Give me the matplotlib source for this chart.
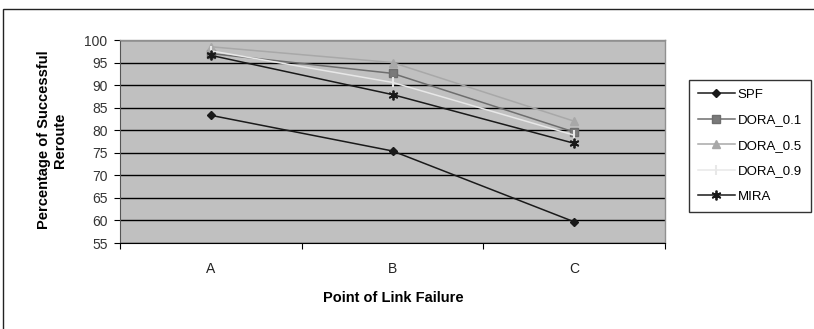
import matplotlib
matplotlib.use("Agg")
import matplotlib.pyplot as plt
from matplotlib.patches import Rectangle
import numpy as np

# ---------------- data ---------------- #
points = ["A", "B", "C"]
spf = [83.3, 75.4, 59.7]
dora_01 = [97.0, 92.6, 79.6]
dora_05 = [98.5, 95.0, 82.0]
dora_09 = [97.6, 90.6, 78.9]
mira = [96.6, 87.9, 77.1]

plt.rcParams.update({"font.family": ["Liberation Sans", "DejaVu Sans"],
                     "font.size": 10})

W, H = 814, 329
fig = plt.figure(figsize=(W / 100, H / 100), dpi=100)
fig.patch.set_facecolor("white")

# outer chart frame (Excel style), right/bottom edges run off the picture
fig.patches.append(Rectangle((3 / W, -0.1), 1.1, 1.1 - 9 / H,
                             transform=fig.transFigure, fill=False,
                             edgecolor="#222222", lw=1.0))

ax = fig.add_axes([120 / W, 1 - 243 / H, 545 / W, 203 / H])
ax.set_facecolor("#c0c0c0")

x = np.arange(len(points))
series = [
    ("SPF", spf, dict(color="#1a1a1a", marker="D", ms=4.5, mfc="#1a1a1a")),
    ("DORA_0.1", dora_01, dict(color="#6e6e6e", marker="s", ms=6, mfc="#7a7a7a")),
    ("DORA_0.5", dora_05, dict(color="#a8a8a8", marker="^", ms=6, mfc="#a8a8a8")),
    ("DORA_0.9", dora_09, dict(color="#e8e8e8", marker="|", ms=7, mew=1.5)),
    ("MIRA", mira, dict(color="#1a1a1a", marker=(6, 2, 0), ms=7, mew=1.3)),
]
for name, vals, st in series:
    ax.plot(x, vals, label=name, lw=1.1, **st)

ax.set_xlim(-0.5, 2.5)
ax.set_ylim(55, 100)
ax.set_yticks(np.arange(55, 101, 5))
ax.yaxis.grid(True, color="black", lw=1.0)
ax.set_axisbelow(True)

# category boundaries carry the tick marks, labels sit between them
ax.set_xticks([-0.5, 0.5, 1.5, 2.5])
ax.set_xticklabels([])
ax.set_xticks(x, minor=True)
ax.set_xticklabels(points, minor=True)
ax.tick_params(axis="x", which="major", length=4, color="black")
ax.tick_params(axis="x", which="minor", length=0, pad=14, labelsize=10,
               labelcolor="#222222")
ax.tick_params(axis="y", length=4, pad=5, labelsize=10, labelcolor="#333333")

for side in ("top", "right"):
    ax.spines[side].set_color("#909090")
    ax.spines[side].set_linewidth(1.0)
ax.spines["left"].set_color("#555555")
ax.spines["bottom"].set_color("black")

fig.text(52 / W, 1 - 140 / H, "Percentage of Successful\nReroute",
         rotation=90, ha="center", va="center", fontweight="bold",
         fontsize=10.5, linespacing=1.1)
fig.text(393 / W, 1 - 298 / H, "Point of Link Failure", ha="center",
         va="center", fontweight="bold", fontsize=10.5)

leg = fig.legend(loc="upper left", bbox_to_anchor=(682 / W, 1 - 73 / H),
                 frameon=True, fancybox=False, edgecolor="black",
                 handlelength=2.8, labelspacing=1.0, borderpad=0.7,
                 handletextpad=0.2, fontsize=9.5)
leg.get_frame().set_linewidth(1.0)

fig.savefig("out.png", dpi=100)
